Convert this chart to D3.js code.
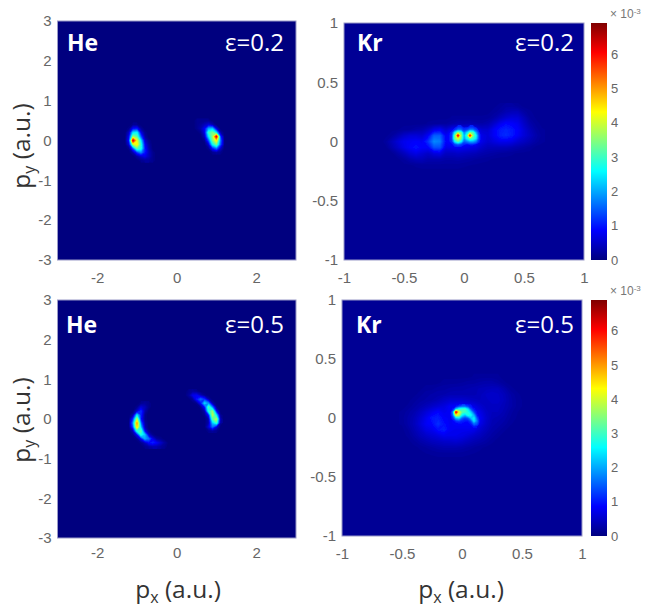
<!DOCTYPE html>
<html>
<head>
<meta charset="utf-8">
<script src="https://cdn.jsdelivr.net/npm/d3@7"></script>
<style>
  html, body { margin: 0; padding: 0; background: #fff; }
  svg { display: block; }
  .tick text { font-family: "Liberation Sans", sans-serif; fill: #666; }
</style>
</head>
<body>
<div id="chart"></div>
<script>
const w = 645;
const h = 610;

// tick labels
const heTicksX = [-2, 0, 2];
const heTicksY = [-3, -2, -1, 0, 1, 2, 3];
const krTicks = [-1, -0.5, 0, 0.5, 1];
const barTicks = [0, 1, 2, 3, 4, 5, 6];
const barMax = 6.9;

// jet colours, stops are fractions of barMax
const jetStops = [0, 0.125, 0.375, 0.625, 0.875, 1];
const jetColors = ["#00007f", "#0000ff", "#00ffff", "#ffff00", "#ff0000", "#7f0000"];

// intensity (x 10^-3), rows run from high py to low py
// He e=0.2, left lobe: px from -1.4, py from 0.4, step 0.1
const heTopLeft = [
  [0, 0, 0, 0.1, 0.1, 0, 0, 0, 0, 0],
  [0, 0, 0.1, 0.9, 1.0, 0.2, 0, 0, 0, 0],
  [0, 0, 0.5, 2.4, 2.6, 0.7, 0.1, 0, 0, 0],
  [0, 0, 0.8, 3.6, 3.2, 1.4, 0.2, 0, 0, 0],
  [0, 0, 1.0, 6.4, 4.2, 2.4, 0.5, 0.1, 0, 0],
  [0, 0, 0.6, 3.8, 4.4, 2.8, 0.8, 0.2, 0, 0],
  [0, 0, 0.1, 1.4, 3.2, 2.8, 1.0, 0.3, 0, 0],
  [0, 0, 0, 0.3, 1.2, 1.8, 1.0, 0.4, 0.1, 0],
  [0, 0, 0, 0, 0.2, 0.5, 0.7, 0.4, 0.1, 0],
  [0, 0, 0, 0, 0, 0.1, 0.2, 0.2, 0.1, 0]
];
// He e=0.2, right lobe: px from 0.4, py from 0.5, step 0.1
const heTopRight = [
  [0, 0.1, 0.1, 0.1, 0.1, 0, 0, 0, 0, 0],
  [0, 0.1, 0.2, 0.4, 0.6, 0.3, 0, 0, 0, 0],
  [0, 0.1, 0.3, 0.8, 2.0, 2.2, 0.6, 0, 0, 0],
  [0, 0, 0.1, 0.7, 3.0, 3.4, 2.4, 0.3, 0, 0],
  [0, 0, 0, 0.4, 2.4, 3.6, 6.4, 1.2, 0, 0],
  [0, 0, 0, 0.1, 1.4, 3.4, 4.4, 1.6, 0, 0],
  [0, 0, 0, 0, 0.5, 2.6, 3.4, 1.4, 0, 0],
  [0, 0, 0, 0, 0.1, 1.0, 1.6, 0.5, 0, 0],
  [0, 0, 0, 0, 0, 0.1, 0.2, 0.1, 0, 0]
];
// He e=0.5, left arc: px from -1.3, py from 0.4, step 0.1
const heBottomLeft = [
  [0, 0, 0, 0, 0.1, 0.2, 0.1, 0, 0, 0, 0, 0],
  [0, 0, 0, 0.1, 0.6, 0.4, 0.1, 0, 0, 0, 0, 0],
  [0, 0, 0, 0.5, 1.2, 0.3, 0, 0, 0, 0, 0, 0],
  [0, 0, 0.3, 2.4, 1.1, 0.1, 0, 0, 0, 0, 0, 0],
  [0, 0, 1.2, 3.8, 1.0, 0.1, 0, 0, 0, 0, 0, 0],
  [0, 0, 1.8, 5.0, 1.6, 0.2, 0, 0, 0, 0, 0, 0],
  [0, 0, 1.4, 4.6, 2.2, 0.3, 0, 0, 0, 0, 0, 0],
  [0, 0, 0.4, 2.8, 3.2, 0.8, 0.1, 0, 0, 0, 0, 0],
  [0, 0, 0.1, 0.8, 2.8, 2.2, 0.5, 0.1, 0, 0, 0, 0],
  [0, 0, 0, 0.1, 0.8, 2.0, 1.6, 0.7, 0.2, 0.1, 0, 0],
  [0, 0, 0, 0, 0.1, 0.4, 0.9, 1.1, 0.8, 0.5, 0.2, 0],
  [0, 0, 0, 0, 0, 0.1, 0.2, 0.3, 0.3, 0.2, 0.1, 0]
];
// He e=0.5, right arc: px from 0.2, py from 0.7, step 0.1
const heBottomRight = [
  [0, 0.1, 0.2, 0.1, 0, 0, 0, 0, 0, 0],
  [0, 0.2, 0.7, 0.8, 0.4, 0.1, 0, 0, 0, 0],
  [0, 0, 0.2, 1.0, 1.6, 1.2, 0.3, 0, 0, 0],
  [0, 0, 0, 0.1, 0.9, 2.4, 1.8, 0.3, 0, 0],
  [0, 0, 0, 0, 0.1, 1.0, 3.2, 1.7, 0.1, 0],
  [0, 0, 0, 0, 0, 0.3, 2.8, 3.6, 0.8, 0],
  [0, 0, 0, 0, 0, 0.1, 1.0, 3.9, 2.4, 0.1],
  [0, 0, 0, 0, 0, 0, 0.3, 3.2, 3.8, 0.3],
  [0, 0, 0, 0, 0, 0, 0.3, 2.2, 3.0, 0.2],
  [0, 0, 0, 0, 0, 0, 0.6, 1.6, 0.6, 0],
  [0, 0, 0, 0, 0, 0, 0.1, 0.2, 0.1, 0]
];
// Kr e=0.2, haze: px from -0.65, py from 0.3, step 0.05
const krTopHaze = [
  [.15, .15, .15, .15, .15, .15, .15, .15, .15, .15, .15, .15, .15, .15, .15, .15, .15, .15, .15, .2, .25, .25, .2, .15, .15, .15, .15],
  [.15, .15, .15, .15, .15, .15, .15, .15, .15, .15, .15, .15, .15, .15, .15, .15, .15, .15, .2, .25, .35, .4, .4, .25, .18, .15, .15],
  [.15, .15, .15, .15, .15, .15, .15, .15, .15, .15, .15, .18, .18, .18, .18, .18, .18, .2, .28, .42, .55, .62, .6, .4, .22, .16, .15],
  [.15, .15, .15, .15, .15, .15, .15, .18, .2, .22, .22, .28, .35, .32, .35, .3, .28, .34, .52, .75, .9, .85, .75, .5, .3, .2, .15],
  [.15, .15, .17, .2, .22, .28, .32, .45, .7, .8, .55, .8, .9, .8, .9, .8, .55, .55, .8, 1, 1.1, 1, .85, .6, .4, .25, .18],
  [.15, .22, .35, .5, .6, .6, .55, .8, 1.5, 1.5, .8, 1, 1, 1, 1, 1, .7, .6, .8, 1.05, 1.15, 1, .8, .6, .45, .3, .2],
  [.22, .4, .6, .75, .8, .85, .8, 1.2, 1.8, 1.7, .85, 1, 1, 1, 1, 1, .7, .55, .65, .75, .75, .7, .55, .45, .35, .25, .18],
  [.15, .32, .5, .7, .85, 1, .85, .85, 1.4, 1.4, .7, .75, .8, .75, .7, .65, .5, .4, .4, .4, .4, .35, .3, .25, .2, .15, .15],
  [.15, .15, .28, .42, .6, .7, .6, .5, .65, .7, .45, .45, .5, .45, .42, .38, .32, .28, .25, .22, .2, .18, .16, .15, .15, .15, .15],
  [.15, .15, .15, .22, .32, .4, .4, .32, .32, .32, .28, .28, .3, .28, .25, .22, .2, .18, .16, .15, .15, .15, .15, .15, .15, .15, .15],
  [.15, .15, .15, .15, .16, .18, .2, .2, .2, .2, .2, .2, .2, .18, .17, .16, .15, .15, .15, .15, .15, .15, .15, .15, .15, .15, .15],
  [.15, .15, .15, .15, .15, .15, .15, .15, .15, .15, .15, .15, .15, .15, .15, .15, .15, .15, .15, .15, .15, .15, .15, .15, .15, .15, .15]
];
// Kr e=0.2, bright spots: px from -0.125, py from 0.125, step 0.025
const krTopCore = [
  [.9, 1, 1, 1.1, 1.1, 1, 1, 1.1, 1.1, 1, 1, .9],
  [1, 1, 1.2, 1.6, 1.6, 1.2, 1.3, 1.7, 1.7, 1.3, 1, .9],
  [1, 1.2, 2.6, 3.6, 3.2, 1.7, 2.4, 3.4, 3.2, 2, 1.1, .9],
  [1, 1.3, 3.4, 6.2, 3.6, 2, 3, 6, 3.4, 2.6, 1.2, .9],
  [1, 1.3, 3.4, 4, 3.4, 1.9, 2.6, 3.2, 3, 2.4, 1.2, .9],
  [1, 1.2, 2.6, 3.2, 2.6, 1.5, 1.7, 2, 2, 1.7, 1.1, .9],
  [.9, 1, 1.3, 1.5, 1.3, 1.1, 1, 1.1, 1.1, 1, 1, .9],
  [.9, .9, 1, 1, 1, .9, .9, .9, .9, .9, .9, .8]
];
// Kr e=0.5, haze: px from -0.5, py from 0.35, step 0.05
const krBottomHaze = [
  [.15, .15, .15, .15, .15, .15, .15, .15, .15, .15, .15, .15, .18, .2, .2, .2, .18, .15, .15, .15, .15, .15],
  [.15, .15, .15, .15, .15, .15, .15, .2, .2, .2, .22, .25, .25, .28, .3, .3, .25, .18, .15, .15, .15, .15],
  [.15, .15, .15, .15, .2, .2, .25, .25, .28, .3, .3, .32, .35, .38, .4, .42, .42, .32, .2, .15, .15, .15],
  [.15, .15, .15, .2, .25, .28, .3, .32, .35, .35, .35, .35, .35, .4, .48, .52, .48, .4, .28, .2, .15, .15],
  [.15, .15, .2, .25, .28, .32, .38, .48, .55, .55, .55, .5, .45, .42, .45, .5, .5, .42, .3, .22, .17, .15],
  [.15, .18, .25, .32, .4, .5, .58, .65, .8, .85, .85, .8, .7, .55, .45, .45, .45, .38, .3, .22, .17, .15],
  [.18, .25, .32, .45, .6, .75, .9, .75, .8, .9, .9, .9, .85, .7, .5, .42, .42, .35, .25, .18, .15, .15],
  [.2, .28, .38, .55, .75, 1, 1.05, .85, .8, .9, .9, .9, .9, .8, .55, .38, .35, .3, .22, .17, .15, .15],
  [.18, .28, .4, .6, .8, .9, 1.2, .95, .8, .85, .85, .85, .9, .72, .5, .35, .3, .25, .18, .15, .15, .15],
  [.15, .22, .35, .5, .68, .75, .95, 1.05, .8, .75, .75, .75, .72, .55, .42, .3, .25, .18, .15, .15, .15, .15],
  [.15, .18, .28, .4, .5, .58, .65, .75, .72, .72, .68, .6, .5, .42, .32, .25, .18, .15, .15, .15, .15, .15],
  [.15, .15, .2, .28, .35, .42, .46, .5, .52, .55, .5, .42, .35, .3, .25, .18, .15, .15, .15, .15, .15, .15],
  [.15, .15, .15, .18, .22, .26, .3, .33, .33, .33, .3, .26, .22, .18, .16, .15, .15, .15, .15, .15, .15, .15],
  [.15, .15, .15, .15, .17, .18, .2, .2, .2, .2, .2, .18, .17, .16, .15, .15, .15, .15, .15, .15, .15, .15],
  [.15, .15, .15, .15, .15, .15, .15, .15, .15, .15, .15, .15, .15, .15, .15, .15, .15, .15, .15, .15, .15, .15]
];
// Kr e=0.5, bright arc: px from -0.1, py from 0.1, step 0.025
const krBottomCore = [
  [.8, .8, .9, 1.2, 1.4, 1.4, 1.2, 1, .8, .8, .8],
  [.8, 1, 2.2, 2.8, 3, 3, 2.4, 1.4, 1, .8, .8],
  [.8, 1.8, 6.2, 4.2, 3.2, 3, 2.8, 2.2, 1.3, .9, .8],
  [.8, 1.6, 4.2, 3.8, 2.6, 2.2, 2.8, 2.6, 2, 1, .8],
  [.8, 1.2, 2.2, 2.4, 1.6, 1.3, 1.5, 2.2, 2.5, 1.4, .8],
  [.8, .9, 1.2, 1.3, 1.1, 1, 1, 1.4, 2.4, 1.7, .8],
  [.8, .8, .8, .9, .9, .8, .8, 1, 1.6, 1.4, .8],
  [.8, .8, .8, .8, .8, .8, .8, .8, 1, .9, .8]
];

const jet = d3.scaleLinear()
  .domain(jetStops.map(s => s * barMax))
  .range(jetColors)
  .clamp(true);

const svg = d3.select("#chart").append("svg")
  .attr("width", w)
  .attr("height", h)
  .style("font-family", '"Liberation Sans", sans-serif');

const defs = svg.append("defs");
const blur = defs.append("filter").attr("id", "soft")
  .attr("filterUnits", "userSpaceOnUse")
  .attr("x", 0).attr("y", 0).attr("width", w).attr("height", h);
blur.append("feGaussianBlur").attr("stdDeviation", 0.6);

const grad = defs.append("linearGradient").attr("id", "jetbar")
  .attr("x1", 0).attr("y1", 1).attr("x2", 0).attr("y2", 0);
grad.selectAll("stop").data(jetStops).join("stop")
  .attr("offset", d => d)
  .attr("stop-color", (d, i) => jetColors[i]);

const panels = [
  {
    id: "a", box: [57.5, 21, 296, 260], lim: 3, bg: 0, name: "He", eps: "ε=0.2",
    ticksX: heTicksX, ticksY: heTicksY, labelY: 277, nameX: 67, epsX: 284, titleY: 51,
    patches: [
      { rows: heTopLeft, x0: -1.4, y0: 0.4, step: 0.1, floor: 0.05 },
      { rows: heTopRight, x0: 0.4, y0: 0.5, step: 0.1, floor: 0.05 }
    ]
  },
  {
    id: "b", box: [344, 23, 584, 260], lim: 1, bg: 0.15, name: "Kr", eps: "ε=0.2",
    ticksX: krTicks, ticksY: krTicks, labelY: 277, nameX: 357, epsX: 574, titleY: 51,
    patches: [
      { rows: krTopHaze, x0: -0.65, y0: 0.3, step: 0.05, floor: 0.17 },
      { rows: krTopCore, x0: -0.125, y0: 0.125, step: 0.025, floor: 1.05 }
    ]
  },
  {
    id: "c", box: [57.5, 300, 296, 538], lim: 3, bg: 0, name: "He", eps: "ε=0.5",
    ticksX: heTicksX, ticksY: heTicksY, labelY: 552, nameX: 66, epsX: 284, titleY: 333,
    patches: [
      { rows: heBottomLeft, x0: -1.3, y0: 0.4, step: 0.1, floor: 0.05 },
      { rows: heBottomRight, x0: 0.2, y0: 0.7, step: 0.1, floor: 0.05 }
    ]
  },
  {
    id: "d", box: [342, 300, 582, 536], lim: 1, bg: 0.15, name: "Kr", eps: "ε=0.5",
    ticksX: krTicks, ticksY: krTicks, labelY: 553, nameX: 356, epsX: 574, titleY: 333,
    patches: [
      { rows: krBottomHaze, x0: -0.5, y0: 0.35, step: 0.05, floor: 0.17 },
      { rows: krBottomCore, x0: -0.1, y0: 0.1, step: 0.025, floor: 0.9 }
    ]
  }
];

function drawPatch(g, patch, sx, sy) {
  const ny = patch.rows.length;
  const nx = patch.rows[0].length;
  const levels = d3.range(patch.floor, barMax, 0.05);
  // contour coords are cell based, value i sits at i + 0.5
  const proj = d3.geoTransform({
    point(x, y) {
      this.stream.point(sx(patch.x0 + (x - 0.5) * patch.step), sy(patch.y0 - (y - 0.5) * patch.step));
    }
  });
  const contours = d3.contours().size([nx, ny]).thresholds(levels)(patch.rows.flat());
  g.append("g").selectAll("path")
    .data(contours)
    .join("path")
    .attr("d", d3.geoPath(proj))
    .attr("fill", d => jet(d.value + 0.025));
}

function drawPanel(p) {
  const [x0, y0, x1, y1] = p.box;
  const sx = d3.scaleLinear().domain([-p.lim, p.lim]).range([x0, x1]);
  const sy = d3.scaleLinear().domain([-p.lim, p.lim]).range([y1, y0]);

  defs.append("clipPath").attr("id", "clip-" + p.id)
    .append("rect").attr("x", x0).attr("y", y0).attr("width", x1 - x0).attr("height", y1 - y0);

  svg.append("rect")
    .attr("x", x0).attr("y", y0).attr("width", x1 - x0).attr("height", y1 - y0)
    .attr("fill", jet(p.bg));

  const heat = svg.append("g").attr("clip-path", "url(#clip-" + p.id + ")")
    .append("g").attr("filter", "url(#soft)");
  p.patches.forEach(patch => drawPatch(heat, patch, sx, sy));

  svg.append("rect")
    .attr("x", x0).attr("y", y0).attr("width", x1 - x0).attr("height", y1 - y0)
    .attr("fill", "none").attr("stroke", "#9a9ac8").attr("stroke-width", 1);

  const axisX = d3.axisBottom(sx).tickValues(p.ticksX).tickSize(0).tickFormat(d => String(d));
  svg.append("g")
    .attr("transform", "translate(0," + (p.labelY - 8) + ")")
    .call(axisX)
    .call(g => g.select(".domain").remove())
    .selectAll("text").attr("font-size", 15).attr("font-family", '"Liberation Sans", sans-serif');

  const axisY = d3.axisLeft(sy).tickValues(p.ticksY).tickSize(0).tickPadding(0).tickFormat(d => String(d));
  svg.append("g")
    .attr("transform", "translate(" + (x0 - 6) + ",0)")
    .call(axisY)
    .call(g => g.select(".domain").remove())
    .selectAll("text").attr("font-size", 15).attr("font-family", '"Liberation Sans", sans-serif');

  svg.append("text").text(p.name)
    .attr("x", p.nameX).attr("y", p.titleY)
    .attr("fill", "#fff").attr("font-size", 23).attr("font-weight", 700)
    .attr("font-family", '"Open Sans", sans-serif');
  svg.append("text").text(p.eps)
    .attr("x", p.epsX).attr("y", p.titleY)
    .attr("text-anchor", "end")
    .attr("fill", "#fff").attr("font-size", 24)
    .attr("font-family", '"Open Sans", sans-serif');
}

function drawBar(x0, y0, x1, y1) {
  const sy = d3.scaleLinear().domain([0, barMax]).range([y1, y0]);
  svg.append("rect")
    .attr("x", x0).attr("y", y0).attr("width", x1 - x0).attr("height", y1 - y0)
    .attr("fill", "url(#jetbar)");
  const axis = d3.axisRight(sy).tickValues(barTicks).tickSize(0).tickPadding(4).tickFormat(d => String(d));
  svg.append("g")
    .attr("transform", "translate(" + x1 + ",0)")
    .call(axis)
    .call(g => g.select(".domain").remove())
    .selectAll("text").attr("font-size", 13).attr("font-family", '"Liberation Sans", sans-serif');
  const note = svg.append("text")
    .attr("x", x0 + 19).attr("y", y0 - 5)
    .attr("fill", "#777").attr("font-size", 12);
  note.append("tspan").text("× 10");
  note.append("tspan").text("-3").attr("font-size", 8).attr("dy", -4);
}

function axisLabel(letter, x, y, rotate) {
  const t = svg.append("text")
    .attr("transform", "translate(" + x + "," + y + ") rotate(" + rotate + ")")
    .attr("text-anchor", "middle")
    .attr("fill", "#333").attr("font-size", 24.5)
    .attr("font-family", '"Open Sans", sans-serif');
  t.append("tspan").text("p");
  t.append("tspan").text(letter).attr("font-size", 16).attr("dy", 5);
  t.append("tspan").text(" (a.u.)").attr("dy", -5);
}

panels.forEach(drawPanel);
drawBar(591, 23, 607, 260);
drawBar(591, 300, 607, 536);

axisLabel("y", 30, 146, -90);
axisLabel("y", 30, 420, -90);
axisLabel("x", 178, 598, 0);
axisLabel("x", 461, 598, 0);
</script>
</body>
</html>
